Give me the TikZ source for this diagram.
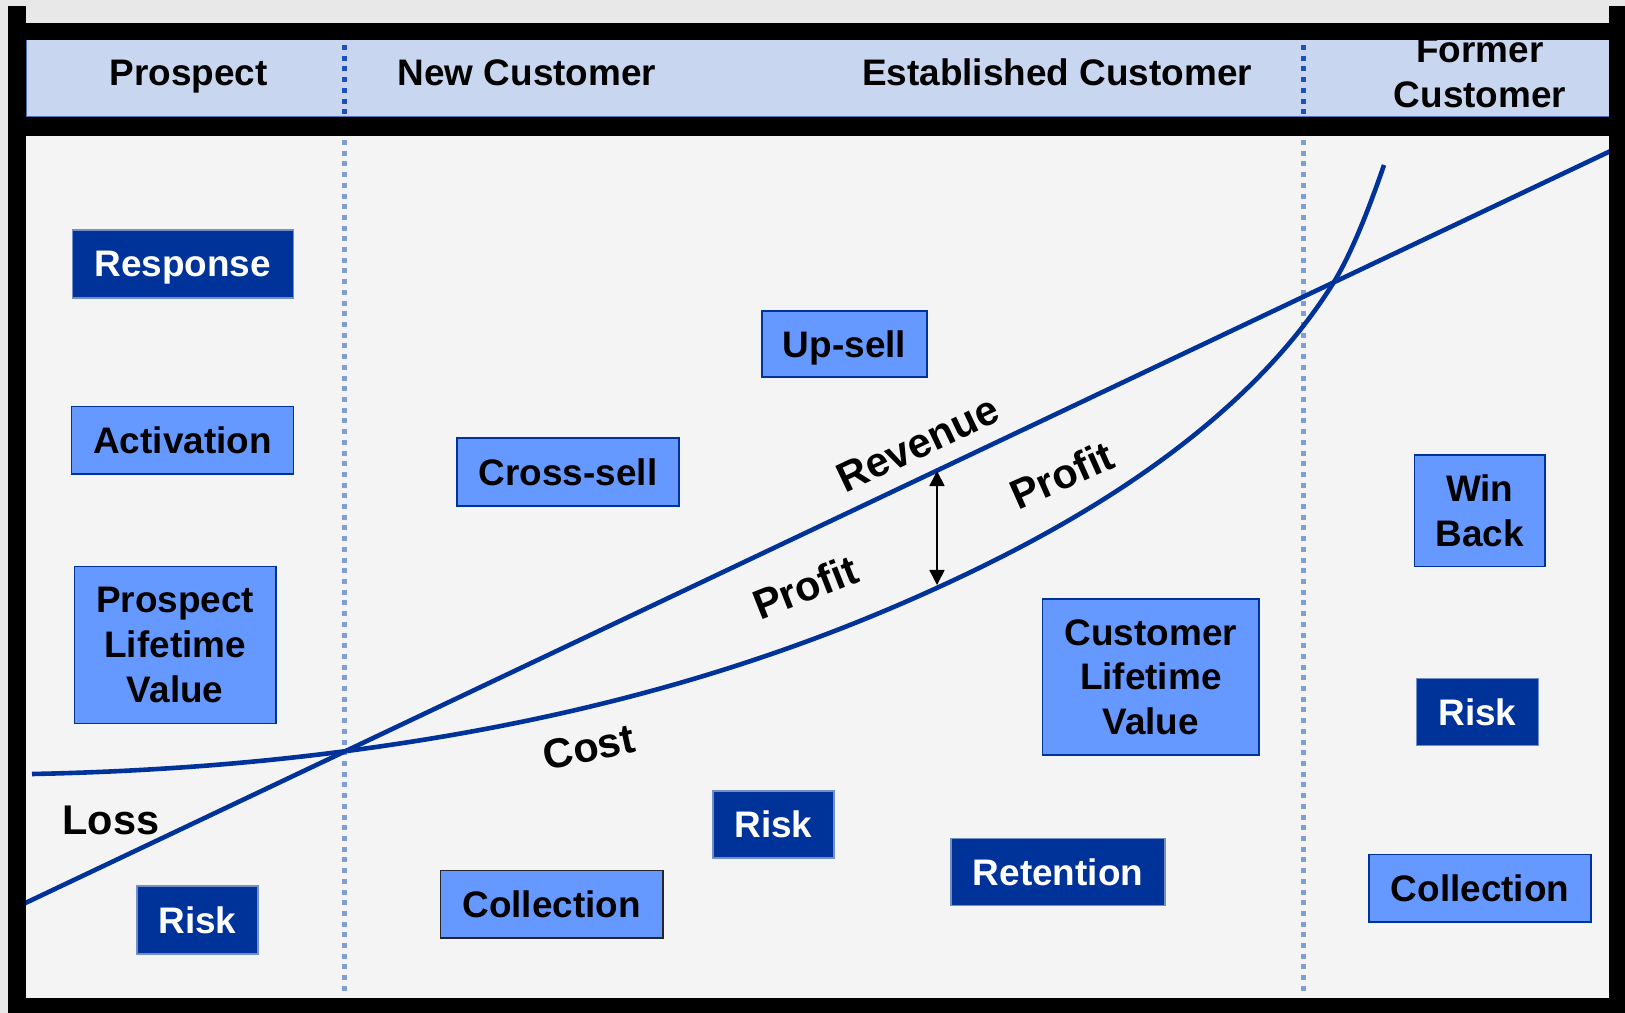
\documentclass[tikz,border=0pt]{standalone}
\usepackage{fontspec}
\setmainfont{Liberation Sans}
\usetikzlibrary{arrows.meta}

\definecolor{curveblue}{HTML}{003399}
\definecolor{boxlight}{HTML}{6699FF}
\definecolor{headfill}{HTML}{C9D6EF}
\definecolor{bodyfill}{HTML}{F4F4F4}
\definecolor{pagegray}{HTML}{E8E8E8}
\definecolor{dotdark}{HTML}{1F4FBF}
\definecolor{dotlight}{HTML}{7F9ED4}

\tikzset{
  boxtext/.style={font={\fontsize{10.5}{12.7}\selectfont\bfseries}, align=center, inner sep=0pt},
  darkbox/.style={boxtext, fill=curveblue, draw=curveblue!55, line width=0.012cm, text=white, text depth=0pt},
  lightbox/.style={boxtext, fill=boxlight, draw=curveblue, line width=0.015cm},
  headtext/.style={font={\fontsize{10.5}{12.8}\selectfont\bfseries}, align=center, inner sep=0pt},
  curvelabel/.style={font={\fontsize{11.8}{14}\selectfont\bfseries}, inner sep=0pt},
  curve/.style={curveblue, line width=0.046cm},
  stagesep/.style={line width=0.05cm, dash pattern=on 0.05cm off 0.057cm},
}

\begin{document}
\begin{tikzpicture}[x=0.01cm, y=-0.01cm]
    \useasboundingbox (0,0) rectangle (1625,1013);
    \fill[pagegray] (0,0) rectangle (1625,1013);

    % panels
    \fill[bodyfill] (26,136) rectangle (1609,998); % body
    \filldraw[fill=headfill, draw=curveblue!70, line width=0.01cm] (26,40) rectangle (1609,117); % header

    % stage names
    \node[headtext, anchor=base] (prospect) at (188.5,86) {Prospect};
    \node[headtext, anchor=base] (newcust) at (527,86) {New Customer};
    \node[headtext, anchor=base] (estcust) at (1057,86) {Established Customer};
    \node[headtext] (formercust) at (1480,72.5) {Former\\Customer};

    % stage boundaries
    \foreach \sx in {344.5,1303} {
        \draw[stagesep, dotdark] (\sx,45) -- (\sx,115);
        \draw[stagesep, dotlight] (\sx,140) -- (\sx,996);
    }

    % revenue and cost
    \coordinate (revStart) at (18,906.5);
    \coordinate (revEnd) at (1618,147.5);
    \coordinate (costStart) at (32,774);
    \coordinate (costA) at (343,751.5);
    \coordinate (costB) at (940,586.5);
    \coordinate (costC) at (1333,283.5);
    \coordinate (costEnd) at (1384,165);
    \draw[curve] (revStart) -- (revEnd); % revenue
    \draw[curve] (costStart) .. controls (135.7,771.9) and (239.3,765) .. (costA)
        .. controls (542,725.6) and (741,678) .. (costB)
        .. controls (1040,540.5) and (1233,443.5) .. (costC)
        .. controls (1350,256.3) and (1367,214.3) .. (costEnd); % cost

    \coordinate (gapTop) at (937,471);
    \coordinate (gapBot) at (937,585);
    \draw[{Triangle[length=0.15cm,width=0.15cm]}-{Triangle[length=0.15cm,width=0.15cm]}, line width=0.017cm] (gapTop) -- (gapBot);

    \node[curvelabel, rotate=25.4] (revlabel) at (918,444) {Revenue};
    \node[curvelabel, rotate=24] (profitup) at (1062,475) {Profit};
    \node[curvelabel, rotate=21.5] (profitlow) at (805,587) {Profit};
    \node[curvelabel, rotate=12] (costlabel) at (589,747) {Cost};
    \node[curvelabel, anchor=base] (losslabel) at (111,834) {Loss};

    % prospect stage
    \node[darkbox, minimum width=2.21cm, minimum height=0.68cm] (response) at (182.7,264) {Response};
    \node[lightbox, text depth=0pt, minimum width=2.216cm, minimum height=0.673cm] (activation) at (182.5,440.3) {Activation};
    \node[lightbox, minimum width=2.017cm, minimum height=1.566cm] (plv) at (175.2,645) {Prospect\\Lifetime\\Value};
    \node[darkbox, minimum width=1.21cm, minimum height=0.68cm] (riskprospect) at (197.5,920) {Risk};

    % new and established customer
    \node[lightbox, text depth=0pt, minimum width=2.22cm, minimum height=0.68cm] (crosssell) at (568,472) {Cross-sell};
    \node[lightbox, text depth=0pt, minimum width=1.65cm, minimum height=0.66cm] (upsell) at (844.5,344) {Up-sell};
    \node[lightbox, draw=black!85, text depth=0pt, minimum width=2.22cm, minimum height=0.673cm] (collectnew) at (551.7,904.3) {Collection};
    \node[darkbox, minimum width=1.21cm, minimum height=0.67cm] (riskcust) at (773.5,824.5) {Risk};
    \node[darkbox, minimum width=2.14cm, minimum height=0.675cm] (retention) at (1058,872) {Retention};
    \node[lightbox, minimum width=2.163cm, minimum height=1.56cm] (clv) at (1150.8,677) {Customer\\Lifetime\\Value};

    % former customer
    \node[lightbox, minimum width=1.307cm, minimum height=1.117cm] (winback) at (1479.7,510.8) {Win\\Back};
    \node[darkbox, minimum width=1.217cm, minimum height=0.677cm] (riskformer) at (1477.5,712) {Risk};
    \node[lightbox, text depth=0pt, minimum width=2.22cm, minimum height=0.673cm] (collectformer) at (1480,888.3) {Collection};

    % frame
    \fill[black] (8,6) rectangle (26,1013); % left
    \fill[black] (1609,6) rectangle (1625,1013); % right
    \fill[black] (8,23) rectangle (1625,40); % top
    \fill[black] (8,117) rectangle (1625,136); % under header
    \fill[black] (8,998) rectangle (1625,1013); % bottom
\end{tikzpicture}
\end{document}
